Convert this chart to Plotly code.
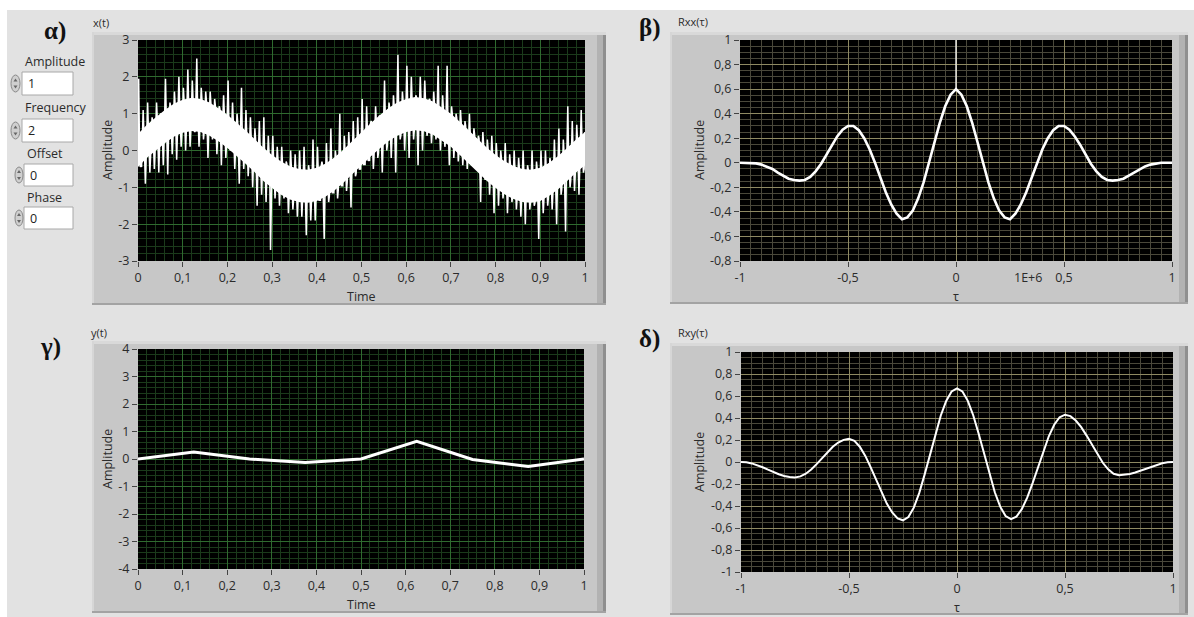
import plotly.graph_objects as go

W, H = 1194, 617

# ---------------- data ----------------
# x(t): noisy sine, upper / lower spike tips read per 0.01 s bin (t = 0 .. 1)
x_hi = [1.95, 1.1, 1.3, 0.9, 1.3, 1.0, 1.95, 1.3, 1.6, 2.0,
        1.7, 2.2, 1.9, 2.5, 1.7, 1.6, 1.6, 1.4, 1.2, 1.5,
        1.9, 1.3, 1.0, 1.7, 1.1, 0.9, 0.6, 0.8, 0.9, 0.4,
        0.4, 0.1, 0.1, -0.3, 0.0, -0.1, 0.0, 0.1, -0.4, 0.3,
        0.1, -0.3, 0.2, 0.6, 0.0, 1.0, 0.4, 0.5, 0.8, 0.9,
        1.4, 1.2, 0.8, 1.2, 0.9, 1.9, 1.3, 1.5, 2.6, 1.6,
        2.3, 2.0, 1.5, 2.0, 1.9, 1.4, 1.6, 2.3, 1.5, 2.3,
        1.2, 1.0, 1.1, 0.8, 1.0, 0.6, 0.4, 0.5, 0.3, 0.4,
        0.2, 0.0, 0.2, -0.1, 0.0, -0.2, 0.0, -0.4, 0.0, -0.3,
        0.0, 0.0, -0.2, 0.3, 0.6, 0.3, 1.2, 0.8, 0.7, 1.1, 0.7]
x_lo = [-0.4, -0.9, -0.6, -0.5, -0.6, -0.4, -0.65, -0.1, -0.25, 0.1,
        0.0, 0.1, 0.5, 0.1, 0.3, -0.2, 0.3, -0.1, -0.4, -0.2,
        0.0, -0.5, -0.9, -0.5, -0.7, -1.0, -1.5, -1.2, -1.4, -2.7,
        -1.3, -1.5, -1.3, -1.7, -1.6, -1.8, -1.8, -2.3, -1.9, -1.9,
        -1.2, -2.4, -1.4, -1.1, -1.3, -0.9, -1.1, -1.55, -0.7, -0.5,
        -0.3, -0.2, -0.5, -0.2, -0.6, 0.0, -0.2, -0.6, 0.3, 0.0,
        -0.2, 0.3, -0.4, 0.0, 0.4, 0.2, 0.3, 0.0, 0.1, -0.4,
        -0.2, -0.3, -0.4, -0.5, -0.4, -0.5, -1.4, -0.8, -1.2, -1.7,
        -1.5, -1.3, -1.7, -1.4, -1.6, -1.8, -2.0, -1.6, -1.5, -2.4,
        -1.7, -1.5, -1.6, -2.0, -1.2, -2.2, -1.0, -1.1, -1.2, -0.6, -0.4]
# x(t): centre line of the solid white body, read per 0.02 s, and its half width
x_mid = [0.0, 0.25, 0.45, 0.65, 0.82, 0.93, 0.98, 0.95, 0.85, 0.7,
         0.52, 0.32, 0.1, -0.13, -0.37, -0.57, -0.75, -0.88, -0.95, -0.97,
         -0.92, -0.8, -0.63, -0.42, -0.18, 0.05, 0.28, 0.5, 0.7, 0.85,
         0.95, 1.0, 0.97, 0.88, 0.72, 0.55, 0.33, 0.1, -0.13, -0.37,
         -0.57, -0.74, -0.87, -0.95, -0.97, -0.92, -0.78, -0.6, -0.38, -0.15, 0.05]
body_half = 0.45

# Rxx(tau), tau = -1 .. 1 step 0.025 (value at tau=0 spikes to 1)
rxx_vals = [0.0, 0.0, 0.0, -0.005, -0.015, -0.03, -0.05, -0.08, -0.105, -0.13,
            -0.14, -0.145, -0.14, -0.115, -0.07, -0.01, 0.065, 0.145, 0.215, 0.27,
            0.30, 0.30, 0.265, 0.20, 0.11, 0.0, -0.12, -0.24, -0.34, -0.415,
            -0.46, -0.445, -0.39, -0.29, -0.16, 0.0, 0.165, 0.325, 0.46, 0.555,
            0.6,
            0.555, 0.46, 0.325, 0.165, 0.0, -0.16, -0.29, -0.39, -0.445, -0.46,
            -0.415, -0.34, -0.24, -0.12, 0.0, 0.11, 0.20, 0.265, 0.30, 0.30,
            0.27, 0.215, 0.145, 0.065, -0.01, -0.07, -0.115, -0.14, -0.145, -0.14,
            -0.13, -0.105, -0.08, -0.05, -0.03, -0.015, -0.005, 0.0, 0.0, 0.0]
rxx_spike = 1.0

# y(t)
y_t = [0, 0.125, 0.25, 0.375, 0.5, 0.625, 0.75, 0.875, 1.0]
y_vals = [0.0, 0.25, 0.0, -0.13, 0.0, 0.64, -0.02, -0.27, 0.0]

# Rxy(tau), tau = -1 .. 1 step 0.025
rxy_vals = [0.0, -0.003, -0.013, -0.029, -0.048, -0.07, -0.092, -0.111, -0.127, -0.137, -0.14,
            -0.131, -0.107, -0.068, -0.019, 0.035, 0.089, 0.138, 0.177, 0.201, 0.21,
            0.192, 0.139, 0.058, -0.046, -0.16, -0.274, -0.378, -0.459, -0.512, -0.53,
            -0.501, -0.415, -0.283, -0.115, 0.07, 0.255, 0.423, 0.555, 0.641, 0.67,
            0.641, 0.556, 0.425, 0.259, 0.075, -0.109, -0.275, -0.406, -0.491, -0.52,
            -0.497, -0.429, -0.324, -0.192, -0.045, 0.102, 0.234, 0.339, 0.407, 0.43,
            0.417, 0.377, 0.317, 0.24, 0.155, 0.07, -0.007, -0.067, -0.107, -0.12,
            -0.117, -0.109, -0.095, -0.079, -0.06, -0.041, -0.025, -0.011, -0.003, 0.0]

# tick labels
t_ticks = [0, 0.1, 0.2, 0.3, 0.4, 0.5, 0.6, 0.7, 0.8, 0.9, 1]
t_text = ["0", "0,1", "0,2", "0,3", "0,4", "0,5", "0,6", "0,7", "0,8", "0,9", "1"]
tau_ticks = [-1, -0.5, 0, 0.5, 1]
tau_text = ["-1", "-0,5", "0", "0,5", "1"]
xa_ticks = [-3, -2, -1, 0, 1, 2, 3]
xa_text = ["-3", "-2", "-1", "0", "1", "2", "3"]
ya_ticks = [-4, -3, -2, -1, 0, 1, 2, 3, 4]
ya_text = ["-4", "-3", "-2", "-1", "0", "1", "2", "3", "4"]
rxx_ticks = [-0.8, -0.6, -0.4, -0.2, 0, 0.2, 0.4, 0.6, 0.8, 1]
rxx_text = ["-0,8", "-0,6", "-0,4", "-0,2", "0", "0,2", "0,4", "0,6", "0,8", "1"]
rxy_ticks = [-1, -0.8, -0.6, -0.4, -0.2, 0, 0.2, 0.4, 0.6, 0.8, 1]
rxy_text = ["-1", "-0,8", "-0,6", "-0,4", "-0,2", "0", "0,2", "0,4", "0,6", "0,8", "1"]

controls = [("Amplitude", "1"), ("Frequency", "2"), ("Offset", "0"), ("Phase", "0")]

# ---------------- build series ----------------
core_t = [i / 50 for i in range(len(x_mid))]
core_hi = [m + body_half for m in x_mid]
core_lo = [m - body_half for m in x_mid]


def core_at(lst, i):
    # body edge at bin i (0.01 s) from the 0.02 s readings
    if i % 2 == 0:
        return lst[i // 2]
    return (lst[i // 2] + lst[i // 2 + 1]) / 2


x_time, x_sig = [], []
offs = [0, 0.0015, 0.003, 0.005, 0.0065, 0.008]
for i in range(len(x_hi)):
    t = i / 100
    ch, cl = core_at(core_hi, i), core_at(core_lo, i)
    vals = [ch, x_hi[i], ch, cl, x_lo[i], cl]
    for o, v in zip(offs, vals):
        if t + o <= 1.0:
            x_time.append(t + o)
            x_sig.append(v)

tau = [round(-1 + 0.025 * k, 4) for k in range(81)]

# ---------------- figure ----------------
def px(x):
    return x / W

def py(y):
    return 1 - y / H

fig = go.Figure()
fig.add_trace(go.Scatter(x=core_t, y=core_lo, mode="lines", line=dict(color="white", width=0),
                         xaxis="x", yaxis="y", hoverinfo="skip"))
fig.add_trace(go.Scatter(x=core_t, y=core_hi, mode="lines", line=dict(color="white", width=0),
                         fill="tonexty", fillcolor="white", xaxis="x", yaxis="y", hoverinfo="skip"))
fig.add_trace(go.Scatter(x=x_time, y=x_sig, mode="lines", line=dict(color="white", width=1.5),
                         xaxis="x", yaxis="y", hoverinfo="skip"))
fig.add_trace(go.Scatter(x=tau, y=rxx_vals, mode="lines", line=dict(color="white", width=2.6),
                         xaxis="x2", yaxis="y2", hoverinfo="skip"))
fig.add_trace(go.Scatter(x=[0, 0], y=[rxx_vals[40], rxx_spike], mode="lines",
                         line=dict(color="white", width=1.3),
                         xaxis="x2", yaxis="y2", hoverinfo="skip"))
fig.add_trace(go.Scatter(x=y_t, y=y_vals, mode="lines", line=dict(color="white", width=3),
                         xaxis="x3", yaxis="y3", hoverinfo="skip"))
fig.add_trace(go.Scatter(x=tau, y=rxy_vals, mode="lines", line=dict(color="white", width=2),
                         xaxis="x4", yaxis="y4", hoverinfo="skip"))

TICKFONT = dict(family="Open Sans", size=12.5, color="#2b2b2b")
GREEN_MAJ, GREEN_MIN = "#2f6a2f", "#1b3a1b"
TAN_MAJ, TAN_MIN = "#8e8962", "#4a483a"


def xaxis(x0, x1, rng, tv, tt, minor_dt, maj, mnr):
    return dict(domain=[px(x0), px(x1)], range=rng, tickmode="array", tickvals=tv, ticktext=tt,
                showgrid=True, gridcolor=maj, gridwidth=1, automargin=False,
                minor=dict(tickmode="linear", tick0=rng[0], dtick=minor_dt, showgrid=True,
                           gridcolor=mnr, gridwidth=1),
                ticks="outside", ticklen=5, tickcolor="#444", tickwidth=1,
                tickfont=TICKFONT, zeroline=False, showline=False, fixedrange=True)


def yaxis(y0, y1, rng, tv, tt, minor_dt, maj, mnr, anchor):
    d = xaxis(0, 1, rng, tv, tt, minor_dt, maj, mnr)
    d["domain"] = [py(y1), py(y0)]
    d["anchor"] = anchor
    return d


fig.update_layout(
    xaxis=dict(xaxis(138, 585, [0, 1], t_ticks, t_text, 0.02, GREEN_MAJ, GREEN_MIN), anchor="y"),
    yaxis=yaxis(40, 261, [-3, 3], xa_ticks, xa_text, 0.2, GREEN_MAJ, GREEN_MIN, "x"),
    xaxis2=dict(xaxis(740, 1172, [-1, 1], tau_ticks, tau_text, 0.05, TAN_MAJ, TAN_MIN), anchor="y2"),
    yaxis2=yaxis(40, 261, [-0.8, 1], rxx_ticks, rxx_text, 0.05, TAN_MAJ, TAN_MIN, "x2"),
    xaxis3=dict(xaxis(138, 584, [0, 1], t_ticks, t_text, 0.02, GREEN_MAJ, GREEN_MIN), anchor="y3"),
    yaxis3=yaxis(349, 569, [-4, 4], ya_ticks, ya_text, 0.2, GREEN_MAJ, GREEN_MIN, "x3"),
    xaxis4=dict(xaxis(741, 1173, [-1, 1], tau_ticks, tau_text, 0.05, TAN_MAJ, TAN_MIN), anchor="y4"),
    yaxis4=yaxis(352, 572, [-1, 1], rxy_ticks, rxy_text, 0.05, TAN_MAJ, TAN_MIN, "x4"),
)

shapes = []
BG = "#e2e2e2"
FRAME = "#c7c7c7"

# panel background (white strip top/left)
shapes.append(dict(type="rect", xref="paper", yref="paper", x0=px(7), x1=1, y0=0, y1=py(10),
                   fillcolor=BG, line=dict(width=0), layer="below"))


def frame(x0, y0, x1, y1, pl, pt, pr, pb):
    s = []
    s.append(dict(type="rect", x0=px(x0), x1=px(x1), y0=py(y1), y1=py(y0), fillcolor=FRAME))
    s.append(dict(type="rect", x0=px(x0), x1=px(x1), y0=py(y0 + 3), y1=py(y0), fillcolor="#d9d9d9"))
    s.append(dict(type="rect", x0=px(x0), x1=px(x0 + 2), y0=py(y1), y1=py(y0), fillcolor="#d6d6d6"))
    s.append(dict(type="rect", x0=px(x1 - 9), x1=px(x1), y0=py(y1), y1=py(y0 + 3), fillcolor="#b2b2b2"))
    s.append(dict(type="rect", x0=px(x1 - 3), x1=px(x1), y0=py(y1), y1=py(y0 + 3), fillcolor="#8f8f8f"))
    s.append(dict(type="rect", x0=px(x0), x1=px(x1), y0=py(y1), y1=py(y1 - 2), fillcolor="#a3a3a3"))
    # plot area
    s.append(dict(type="rect", x0=px(pl), x1=px(pr), y0=py(pb), y1=py(pt), fillcolor="black"))
    for d in s:
        d.update(xref="paper", yref="paper", line=dict(width=0), layer="below")
    return s


shapes += frame(92, 32, 606, 305, 138, 40, 585, 261)
shapes += frame(670, 32, 1188, 304, 740, 40, 1172, 261)
shapes += frame(92, 341, 606, 613, 138, 349, 584, 569)
shapes += frame(670, 343, 1188, 615, 741, 352, 1173, 572)

# numeric controls
ctrl_label_y = [61, 108, 153, 197]
box_y = [(72, 95), (119, 142), (164, 186), (207, 229)]
spin_x = [(11, 20), (11, 20), (15, 23), (15, 23)]
box_x0 = [22, 22, 24, 24]
annotations = []
for i, (lab, val) in enumerate(controls):
    y0, y1 = box_y[i]
    shapes.append(dict(type="rect", xref="paper", yref="paper", x0=px(box_x0[i]), x1=px(73),
                       y0=py(y1), y1=py(y0), fillcolor="white",
                       line=dict(color="#a8a8a8", width=1)))
    sx0, sx1 = spin_x[i]
    shapes.append(dict(type="circle", xref="paper", yref="paper", x0=px(sx0), x1=px(sx1),
                       y0=py(y1 - 3), y1=py(y0 + 3), fillcolor="#cfcfcf",
                       line=dict(color="#8a8a8a", width=1)))
    cx = (sx0 + sx1) / 2
    cy = (y0 + y1) / 2
    shapes.append(dict(type="path", xref="paper", yref="paper",
                       path=f"M {px(cx-2)} {py(cy-2)} L {px(cx+2)} {py(cy-2)} L {px(cx)} {py(cy-5)} Z",
                       fillcolor="#666", line=dict(width=0)))
    shapes.append(dict(type="path", xref="paper", yref="paper",
                       path=f"M {px(cx-2)} {py(cy+2)} L {px(cx+2)} {py(cy+2)} L {px(cx)} {py(cy+5)} Z",
                       fillcolor="#666", line=dict(width=0)))
    annotations.append(dict(text=lab, x=px(box_x0[i] + 1), y=py(ctrl_label_y[i]),
                            xref="paper", yref="paper", xanchor="left",
                            yanchor="middle", showarrow=False,
                            font=dict(family="Open Sans", size=12.5, color="#2b2b2b")))
    annotations.append(dict(text=val, x=px(box_x0[i] + 4), y=py(cy),
                            xref="paper", yref="paper", xanchor="left",
                            yanchor="middle", showarrow=False,
                            font=dict(family="Open Sans", size=12.5, color="#222")))

fig.update_layout(shapes=shapes)

LBL = dict(family="Open Sans", size=12.5, color="#2b2b2b")
SMALL = dict(family="Open Sans", size=11, color="#2b2b2b")
GREEK = dict(family="Liberation Serif", size=25, color="#111")


def ann(text, x, y, font, xanchor="center", angle=0):
    annotations.append(dict(text=text, x=px(x), y=py(y), xref="paper", yref="paper",
                            xanchor=xanchor, yanchor="middle", showarrow=False,
                            font=font, textangle=angle))


ann("<b>α)</b>", 55, 31, GREEK)
ann("<b>β)</b>", 650, 28, GREEK)
ann("<b>γ)</b>", 50, 347, GREEK)
ann("<b>δ)</b>", 649, 339, GREEK)
ann("x(t)", 91, 23, SMALL, "left")
ann("Rxx(τ)", 676, 22, SMALL, "left")
ann("y(t)", 89, 332, SMALL, "left")
ann("Rxy(τ)", 676, 332, SMALL, "left")
ann("Amplitude", 107, 150, LBL, angle=-90)
ann("Amplitude", 699, 150, LBL, angle=-90)
ann("Amplitude", 107, 459, LBL, angle=-90)
ann("Amplitude", 699, 462, LBL, angle=-90)
ann("Time", 361, 296, LBL)
ann("Time", 361, 604, LBL)
ann("τ", 956, 296, LBL)
ann("τ", 957, 607, LBL)
annotations.append(dict(text="1E+6", x=0.333, xref="x2", y=py(277), yref="paper",
                        xanchor="center", yanchor="middle", showarrow=False, font=TICKFONT))

fig.update_layout(annotations=annotations)

fig.update_layout(width=W, height=H,
                  margin=dict(l=0, r=0, t=0, b=0, pad=0, autoexpand=False),
                  paper_bgcolor="white", plot_bgcolor="rgba(0,0,0,0)",
                  showlegend=False, separators=", ")

fig.write_html("out.html", config={"displayModeBar": False},
               post_script="document.body.style.margin='0px';document.body.style.overflow='hidden';")
